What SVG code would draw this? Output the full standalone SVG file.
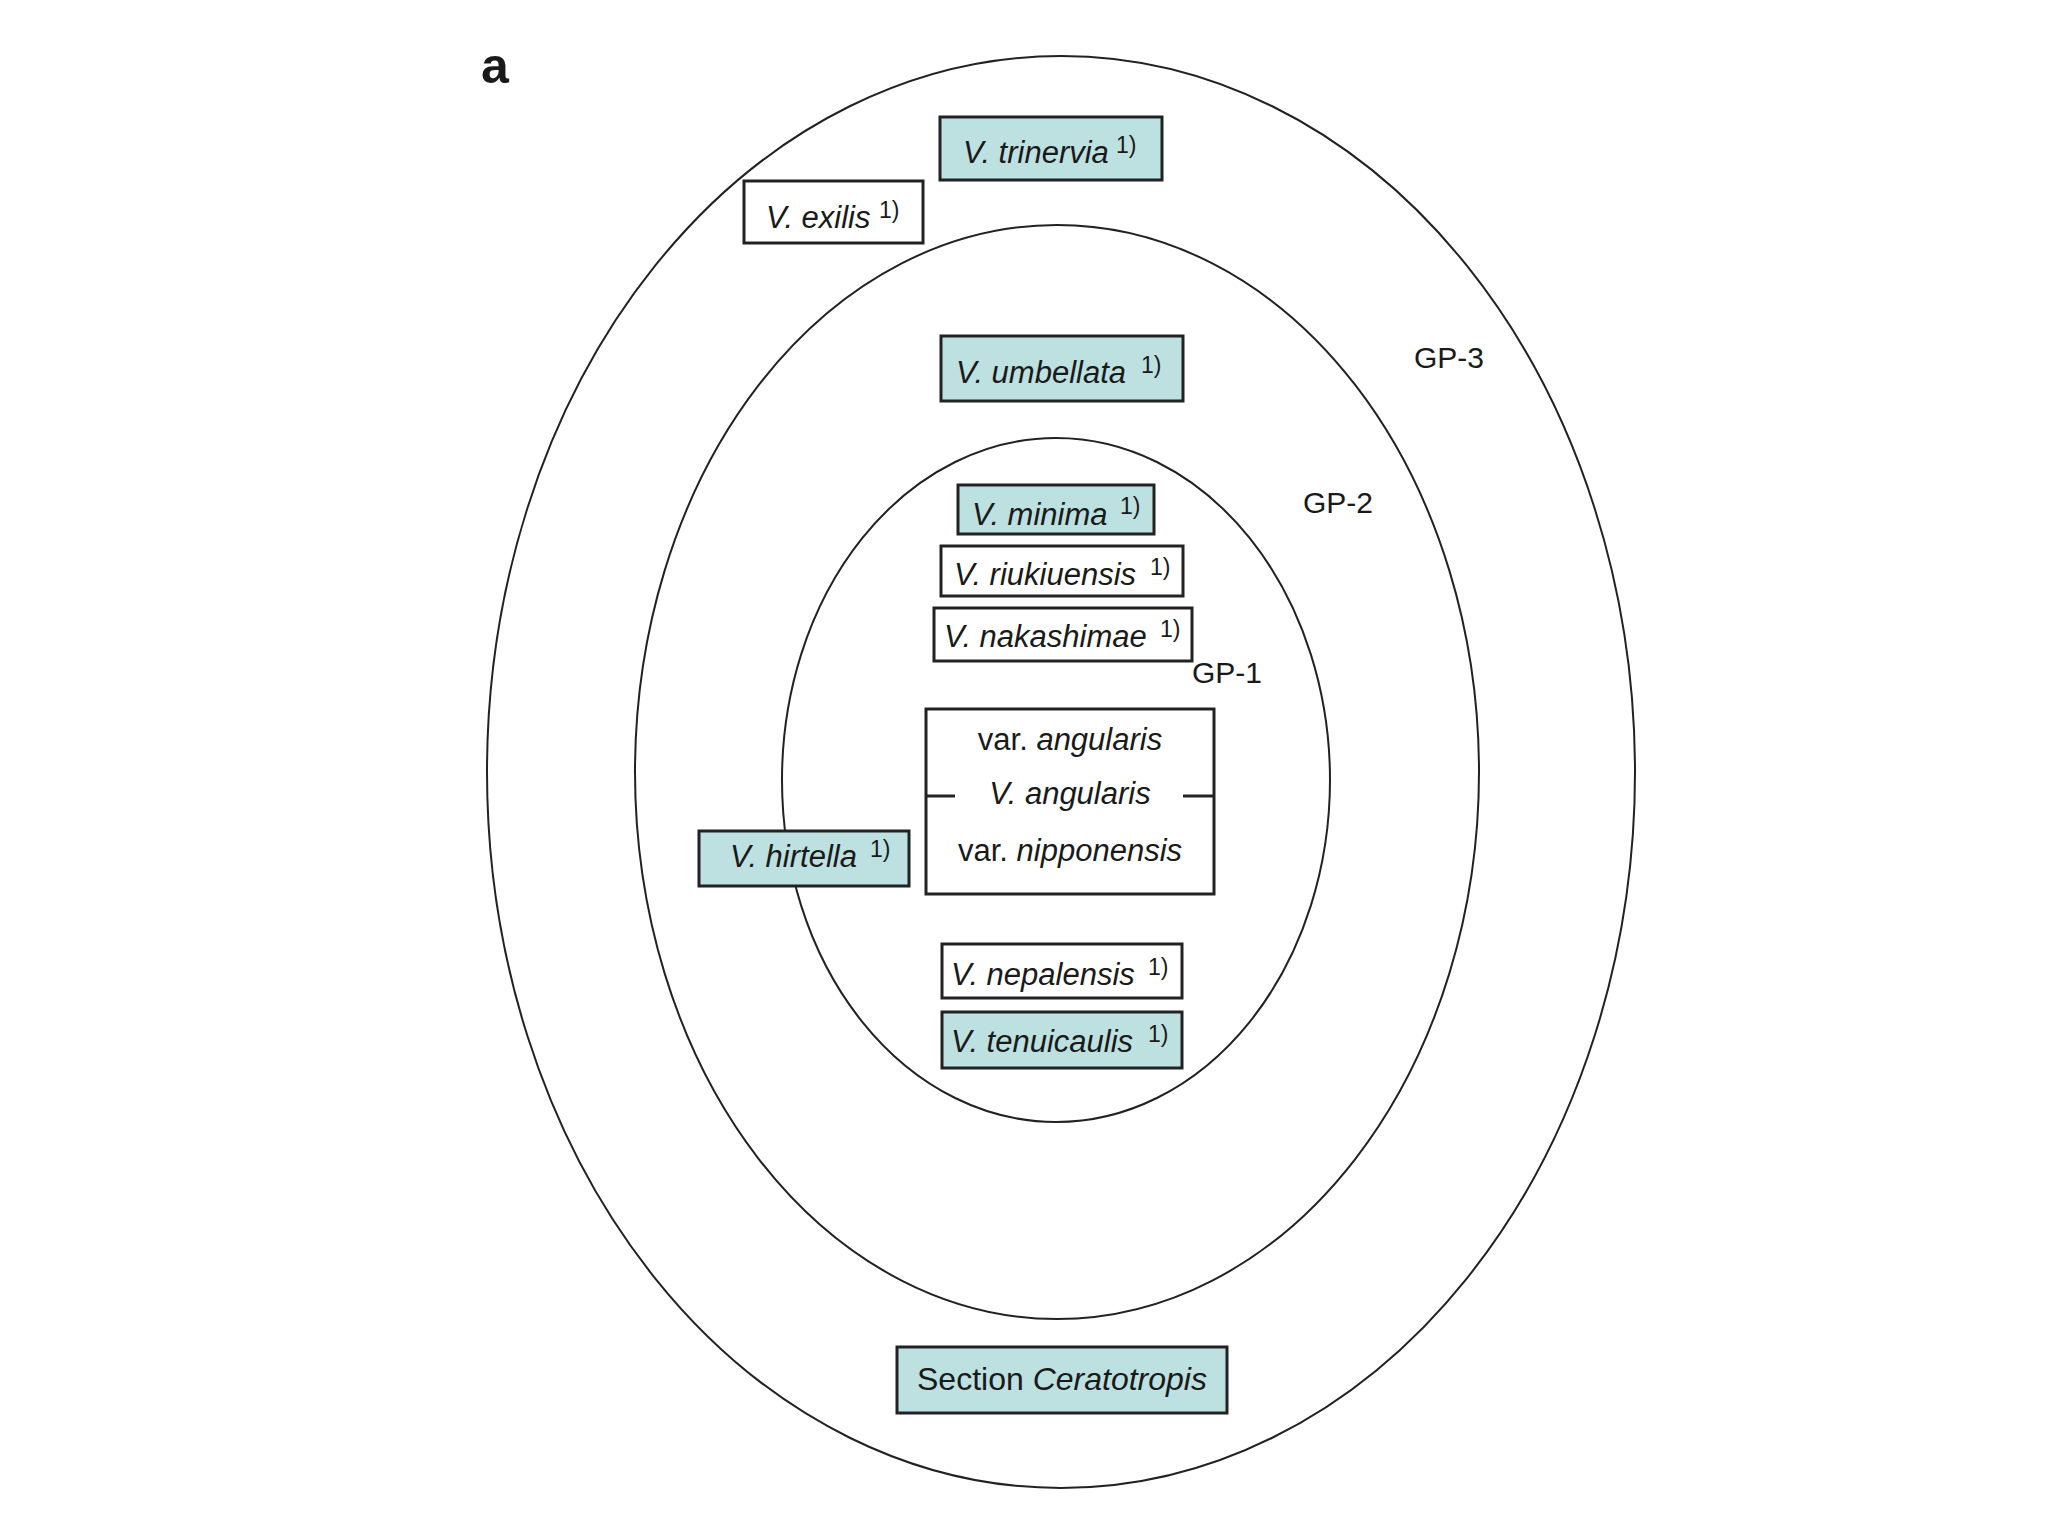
<svg xmlns="http://www.w3.org/2000/svg" width="2048" height="1536" viewBox="0 0 2048 1536">
<style>
.ring{fill:none;stroke:#222;stroke-width:2}
.box{fill:#fff;stroke:#222;stroke-width:3}
.teal{fill:#bde0e0;stroke:#222;stroke-width:3}
text{font-family:"Liberation Sans",Arial,sans-serif;fill:#1a1a1a}
.sp{font-size:31px;font-style:italic}
.sup{font-size:23px;font-style:normal}
.lbl{font-size:30px}
.tick{stroke:#222;stroke-width:3}
</style>
<rect width="2048" height="1536" fill="#fff"/>
<text x="481" y="83" style="font-size:50px;font-weight:bold">a</text>
<g id="rings">
<ellipse id="gp3" class="ring" cx="1061" cy="772" rx="574" ry="716"/>
<ellipse id="gp2" class="ring" cx="1057" cy="772" rx="422" ry="547"/>
<ellipse id="gp1" class="ring" cx="1056" cy="780" rx="274" ry="342"/>
</g>
<g id="labels">
<text class="lbl" x="1414" y="368">GP-3</text>
<text class="lbl" x="1303" y="513">GP-2</text>
<text class="lbl" x="1192" y="683">GP-1</text>
</g>
<g id="trinervia"><rect class="teal" x="940" y="117" width="222" height="63"/><text class="sp" x="963" y="163">V. trinervia<tspan class="sup" x="1116" y="153">1)</tspan></text></g>
<g id="exilis"><rect class="box" x="744" y="181" width="179" height="62"/><text class="sp" x="766" y="228">V. exilis<tspan class="sup" x="879" y="218">1)</tspan></text></g>
<g id="umbellata"><rect class="teal" x="941" y="336" width="242" height="65"/><text class="sp" x="956" y="383">V. umbellata<tspan class="sup" x="1141" y="373">1)</tspan></text></g>
<g id="minima"><rect class="teal" x="958" y="485" width="196" height="49"/><text class="sp" x="972" y="525">V. minima<tspan class="sup" x="1120" y="514">1)</tspan></text></g>
<g id="riukiuensis"><rect class="box" x="941" y="546" width="242" height="50"/><text class="sp" x="954" y="585">V. riukiuensis<tspan class="sup" x="1150" y="575">1)</tspan></text></g>
<g id="nakashimae"><rect class="box" x="934" y="608" width="258" height="53"/><text class="sp" x="944" y="647">V. nakashimae<tspan class="sup" x="1160" y="637">1)</tspan></text></g>
<g id="angularis"><rect class="box" x="926" y="709" width="288" height="185"/>
<line class="tick" x1="926" y1="796" x2="955" y2="796"/><line class="tick" x1="1183" y1="796" x2="1214" y2="796"/>
<text x="1070" y="750" text-anchor="middle" style="font-size:31px">var. <tspan font-style="italic">angularis</tspan></text>
<text x="1070" y="804" text-anchor="middle" style="font-size:31px;font-style:italic">V. angularis</text>
<text x="1070" y="861" text-anchor="middle" style="font-size:31px">var. <tspan font-style="italic">nipponensis</tspan></text>
</g>
<g id="hirtella"><rect class="teal" x="699" y="831" width="210" height="55"/><text class="sp" x="730" y="867">V. hirtella<tspan class="sup" x="870" y="857">1)</tspan></text></g>
<g id="nepalensis"><rect class="box" x="942" y="944" width="240" height="54"/><text class="sp" x="951" y="985">V. nepalensis<tspan class="sup" x="1148" y="975">1)</tspan></text></g>
<g id="tenuicaulis"><rect class="teal" x="942" y="1012" width="240" height="56"/><text class="sp" x="951" y="1052">V. tenuicaulis<tspan class="sup" x="1148" y="1042">1)</tspan></text></g>
<g id="ceratotropis"><rect class="teal" x="897" y="1347" width="330" height="66"/><text x="917" y="1390" style="font-size:32px">Section <tspan font-style="italic">Ceratotropis</tspan></text></g>
<g id="connectors"></g>
</svg>
